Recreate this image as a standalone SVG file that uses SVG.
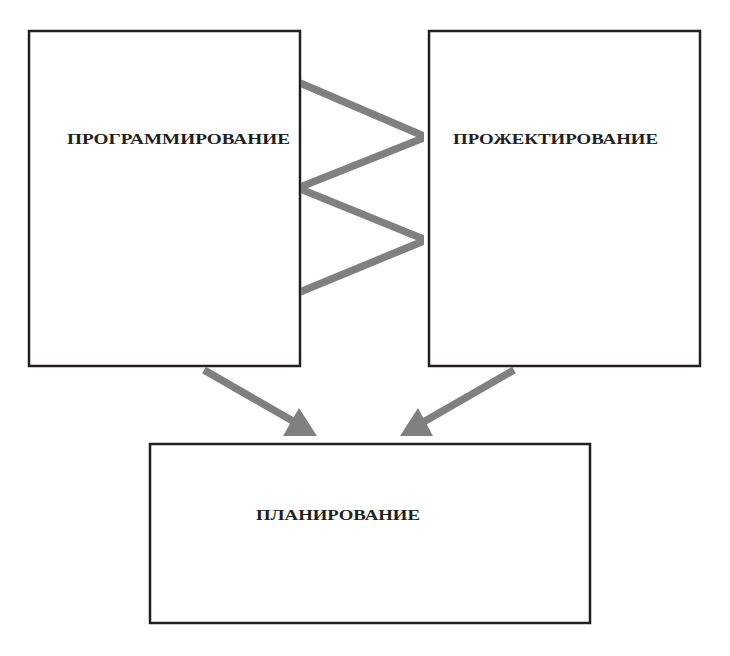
<svg xmlns="http://www.w3.org/2000/svg" width="730" height="656" viewBox="0 0 730 656">
<style>
.box{fill:#fff;stroke:#231f20;stroke-width:2.5}
.lbl{font-family:"Liberation Serif","DejaVu Serif",serif;font-weight:bold;font-size:15px;fill:#231f20}
.con{fill:none;stroke:#808080;stroke-width:7.5;stroke-linejoin:miter}
.head{fill:#808080}
</style>
<defs><clipPath id="zz"><rect x="301" y="60" width="123" height="250"/></clipPath></defs>
<rect width="730" height="656" fill="#fff"/>
<g id="programmirovanie"><rect class="box" x="29" y="31" width="271" height="335"/><text class="lbl" x="67" y="144" textLength="223" lengthAdjust="spacingAndGlyphs">ПРОГРАММИРОВАНИЕ</text></g>
<g id="proektirovanie"><rect class="box" x="429" y="31" width="271" height="335"/><text class="lbl" x="453" y="144" textLength="205" lengthAdjust="spacingAndGlyphs">ПРОЖЕКТИРОВАНИЕ</text></g>
<g id="planirovanie"><rect class="box" x="150" y="444" width="440" height="179"/><text class="lbl" x="256" y="520" textLength="164" lengthAdjust="spacingAndGlyphs">ПЛАНИРОВАНИЕ</text></g>
<g id="connectors">
<polyline class="con" clip-path="url(#zz)" points="300,83 426,137 298,188 426,240 300,292"/>
<line class="con" x1="204" y1="370" x2="298" y2="424"/>
<polygon class="head" points="299,408 283,436 317,436"/>
<line class="con" x1="514" y1="370" x2="420" y2="424"/>
<polygon class="head" points="418,408 433,436 400,436"/>
</g>
</svg>
